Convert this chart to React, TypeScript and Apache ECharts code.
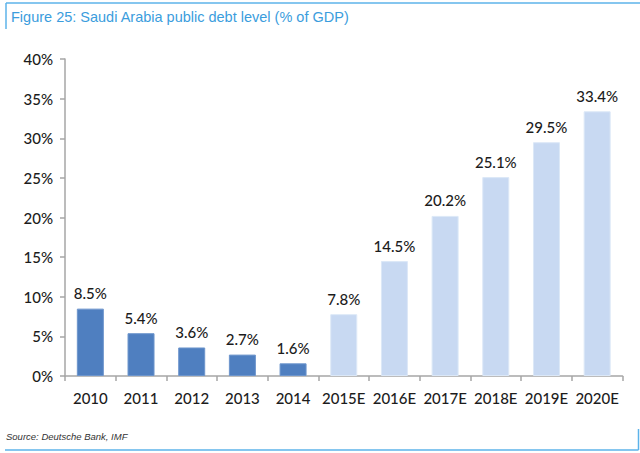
import React, { useEffect, useRef } from "react";
import * as echarts from "echarts";

const categories = ["2010", "2011", "2012", "2013", "2014", "2015E", "2016E", "2017E", "2018E", "2019E", "2020E"];
const debtValues = [8.5, 5.4, 3.6, 2.7, 1.6, 7.8, 14.5, 20.2, 25.1, 29.5, 33.4];
const yTicks = [0, 5, 10, 15, 20, 25, 30, 35, 40];

const ACTUAL = "#4f7fc0";
const ESTIMATE = "#c8d9f2";
const FRAME = "#5cb3ea";
const TEXT = "#1c1c1c";

export default function App() {
  const ref = useRef<HTMLDivElement>(null);
  useEffect(() => {
    if (!ref.current) return;
    const chart = echarts.init(ref.current, undefined, { renderer: "svg" });
    const data = debtValues.map((v, i) => ({
      value: v,
      itemStyle: {
        color: categories[i].endsWith("E") ? ESTIMATE : ACTUAL,
        borderColor: categories[i].endsWith("E") ? "#dce8f7" : "#6d95cc",
        borderWidth: 1,
      },
    }));
    chart.setOption({
      animation: false,
      backgroundColor: "#ffffff",
      grid: { left: 65, right: 17.5, top: 59, bottom: 77, containLabel: false },
      xAxis: {
        type: "category",
        data: categories,
        axisLine: { show: true, lineStyle: { color: "#a6a6a6", width: 1.5 } },
        axisTick: { show: true, interval: 0, length: 5, lineStyle: { color: "#a6a6a6", width: 1.5 } },
        axisLabel: { interval: 0, color: TEXT, fontFamily: "Lato", fontSize: 15, fontWeight: 500, margin: 14 },
      },
      yAxis: {
        type: "value",
        min: yTicks[0],
        max: yTicks[yTicks.length - 1],
        interval: 5,
        axisLine: { show: true, lineStyle: { color: "#a6a6a6", width: 1.5 } },
        axisTick: { show: true, length: 5, lineStyle: { color: "#a6a6a6", width: 1.5 } },
        splitLine: { show: false },
        axisLabel: { color: TEXT, fontFamily: "Lato", fontSize: 15, fontWeight: 500, margin: 12, formatter: "{value}%" },
      },
      series: [
        {
          type: "bar",
          data,
          barWidth: 27,
          label: {
            show: true,
            position: "top",
            distance: 8,
            color: TEXT,
            fontFamily: "Lato",
            fontSize: 15,
            fontWeight: 500,
            formatter: (p: any) => p.value.toFixed(1) + "%",
          },
        },
      ],
      graphic: [
        { type: "line", shape: { x1: 6, y1: 3, x2: 640, y2: 3 }, style: { stroke: FRAME, lineWidth: 1.5 } },
        { type: "line", shape: { x1: 6, y1: 3, x2: 6, y2: 29 }, style: { stroke: FRAME, lineWidth: 1.5 } },
        { type: "line", shape: { x1: 5, y1: 450, x2: 638.5, y2: 450 }, style: { stroke: FRAME, lineWidth: 1.5 } },
        { type: "line", shape: { x1: 638.5, y1: 429, x2: 638.5, y2: 450 }, style: { stroke: FRAME, lineWidth: 1.5 } },
        {
          type: "text",
          left: 11,
          top: 9,
          style: {
            text: "Figure 25: Saudi Arabia public debt level (% of GDP)",
            fill: "#3b9ddd",
            font: "14.5px 'Liberation Sans', Arial, sans-serif",
          },
        },
        {
          type: "text",
          left: 6,
          top: 431,
          style: {
            text: "Source: Deutsche Bank, IMF",
            fill: "#333",
            font: "italic 9.5px 'Liberation Sans', Arial, sans-serif",
          },
        },
      ],
    });
    return () => chart.dispose();
  }, []);
  return <div ref={ref} style={{ position: "fixed", left: 0, top: 0, width: 640, height: 453 }} />;
}
